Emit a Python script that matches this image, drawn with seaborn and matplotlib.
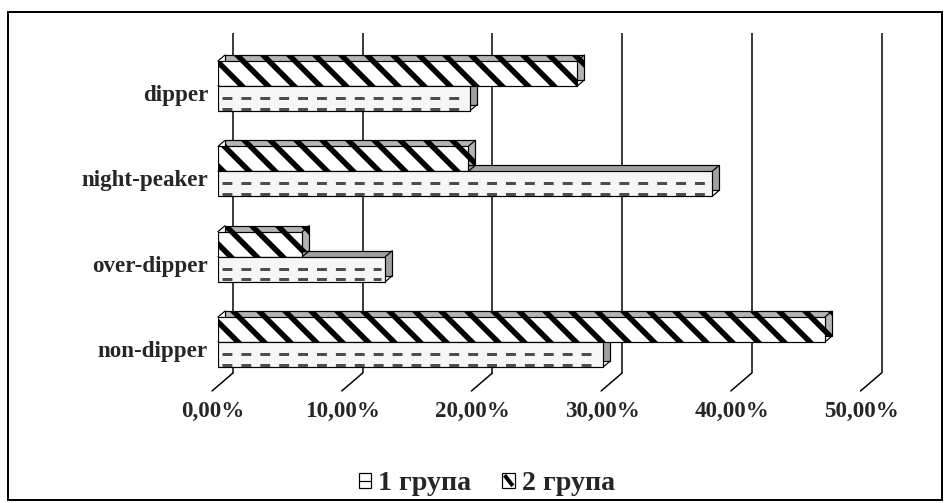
import numpy as np
import pandas as pd
import matplotlib.pyplot as plt
import seaborn as sns
from matplotlib.transforms import offset_copy, ScaledTranslation
from matplotlib.patches import Rectangle, Patch
from matplotlib.lines import Line2D
from matplotlib.legend_handler import HandlerBase

# Дані
categories = ['dipper', 'night-peaker', 'over-dipper', 'non-dipper']
group_names = ['1 група', '2 група']
group1 = [19.4, 38.1, 12.9, 29.7]
group2 = [27.7, 19.3, 6.5, 46.8]
x_ticks = [0, 10, 20, 30, 40, 50]
x_labels = ['0,00%', '10,00%', '20,00%', '30,00%', '40,00%', '50,00%']

DPI = 156
W, H = 947, 503


def pt(px):
    # пікселі -> пункти
    return px * 72 / DPI


sns.set_theme(style='white')
plt.rcParams['font.family'] = ['Liberation Serif', 'DejaVu Serif']
plt.rcParams['hatch.linewidth'] = pt(5.5)

df = pd.DataFrame({
    'категорія': categories * 2,
    'група': [group_names[0]] * len(categories) + [group_names[1]] * len(categories),
    'значення': group1 + group2,
})

fig = plt.figure(figsize=(W / DPI, H / DPI), dpi=DPI)
ax = fig.add_axes([218 / W, 1 - 373 / H, 648.5 / W, 340 / H])

sns.barplot(data=df, x='значення', y='категорія', hue='група', order=categories,
            hue_order=[group_names[1], group_names[0]], orient='h', width=0.586,
            palette=['white', 'white'], saturation=1, errorbar=None, legend=False,
            edgecolor='black', linewidth=pt(1.2), ax=ax)

y_bottom, y_top = 3.363, -0.621
ax.set_xlim(0, 50)
ax.set_ylim(y_bottom, y_top)

bars2, bars1 = ax.containers[0], ax.containers[1]
HATCH2 = '\\\\'

# 3D-ефект: зсунуті "задні" коробки + ребра
depth = offset_copy(ax.transData, fig=fig, x=7, y=6, units='dots')
for bars, face, hatch, front in [(bars1, '#a0a0a0', '', '#f6f6f6'),
                                 (bars2, '#b4b4b4', HATCH2, 'white')]:
    for p in bars:
        p.set_zorder(3)
        p.set_hatch(hatch)
        p.set_facecolor(front)
        back = Rectangle(p.get_xy(), p.get_width(), p.get_height(), transform=depth,
                         facecolor=face, edgecolor='black', linewidth=pt(1.2),
                         hatch=hatch, zorder=2, clip_on=False)
        ax.add_patch(back)
        x0, x1 = p.get_x(), p.get_x() + p.get_width()
        yt, yb = p.get_y(), p.get_y() + p.get_height()
        for cx, cy in [(x0, yt), (x1, yt), (x1, yb)]:
            ax.annotate('', xy=(cx, cy), xytext=(7, 6), textcoords='offset pixels',
                        arrowprops=dict(arrowstyle='-', lw=pt(1.2), color='black',
                                        shrinkA=0, shrinkB=0), zorder=2.5,
                        annotation_clip=False)

# штрихові лінії на барах 1 групи
for p in bars1:
    y0, h = p.get_y(), p.get_height()
    ax.hlines([y0 + 0.48 * h, y0 + 0.9 * h], 0.3, p.get_width() - 0.3,
              colors='#4d4d4d', linewidth=pt(3), linestyles=(0, (3.3, 3.0)), zorder=4)

# сітка на задній стінці та лінії підлоги
back_wall = offset_copy(ax.transData, fig=fig, x=15, y=0, units='dots')
ax.vlines(x_ticks, y_top, y_bottom, transform=back_wall, colors='black',
          linewidth=pt(1.5), zorder=1, clip_on=False)
for t in x_ticks:
    ax.annotate('', xy=(t, y_bottom), xycoords=back_wall, xytext=(-21, -18),
                textcoords='offset pixels',
                arrowprops=dict(arrowstyle='-', lw=pt(1.5), color='black',
                                shrinkA=0, shrinkB=0))

ax.set_xticks(x_ticks)
ax.set_xticklabels(x_labels, fontsize=pt(23), fontweight='bold')
ax.tick_params(axis='x', length=0, pad=pt(28))
for lbl in ax.get_xticklabels():
    lbl.set_transform(lbl.get_transform() + ScaledTranslation(-5 / DPI, 0, fig.dpi_scale_trans))

ax.set_yticks(range(len(categories)))
ax.set_yticklabels(categories, fontsize=pt(23), fontweight='bold')
ax.tick_params(axis='y', length=0, pad=pt(10))
for lbl in ax.get_yticklabels():
    lbl.set_transform(lbl.get_transform() + ScaledTranslation(0, -7 / DPI, fig.dpi_scale_trans))

ax.set_xlabel('')
ax.set_ylabel('')
ax.grid(False)
for s in ax.spines.values():
    s.set_visible(False)


class LegendBox(HandlerBase):
    # маленький квадрат легенди: '-' горизонтальна риска, '\\' діагональна смуга
    def __init__(self, kind):
        super().__init__()
        self.kind = kind

    def create_artists(self, legend, orig_handle, xdescent, ydescent, width, height,
                       fontsize, trans):
        x0, y0 = -xdescent, -ydescent
        box = Rectangle((x0, y0), width, height, facecolor='white', edgecolor='black',
                        linewidth=pt(1.2), transform=trans)
        if self.kind == '-':
            mark = Line2D([x0, x0 + width], [y0 + height / 2] * 2, color='black',
                          lw=pt(1.2), transform=trans)
        else:
            mark = Line2D([x0 + 1, x0 + width - 1], [y0 + height - 1, y0 + 1], color='black',
                          lw=pt(4), solid_capstyle='butt', transform=trans)
        return [box, mark]


h1 = Patch(facecolor='white', edgecolor='black')
h2 = Patch(facecolor='white', edgecolor='black', hatch=HATCH2)
fig.legend([h1, h2], group_names, loc='center', bbox_to_anchor=(487 / W, 1 - 484 / H),
           ncol=2, frameon=False, prop={'size': pt(28), 'weight': 'bold'},
           handlelength=0.45, handleheight=0.45, handletextpad=0.25, columnspacing=1.1,
           handler_map={h1: LegendBox('-'), h2: LegendBox('\\')})

# рамка
fig.add_artist(Rectangle((8 / W, 1 - 500 / H), 934 / W, 488 / H, transform=fig.transFigure,
                         fill=False, edgecolor='black', linewidth=pt(2)))

fig.savefig('out.png', dpi=DPI)
